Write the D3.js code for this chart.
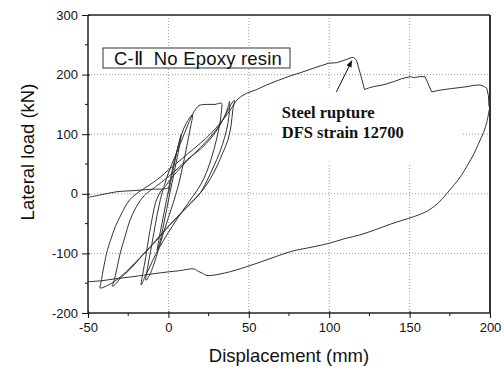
<!DOCTYPE html>
<html>
<head>
<meta charset="utf-8">
<title>C-II hysteresis</title>
<script src="https://d3js.org/d3.v7.min.js"></script>
<style>
  body { margin: 0; background: #fff; }
  text { font-family: "Liberation Sans", Arial, sans-serif; fill: #111; }
</style>
</head>
<body>
<div id="chart"></div>
<script>
// data: [displacement (mm), lateral load (kN)]
let cycle1 = [[0,0],[2,28],[4,55],[6,80],[8,100],[7,82],[5,55],[3,28],[1,2],[-1,-25],[-3,-52],[-5,-78],[-7,-95],[-6,-78],[-4,-50],[-2,-22],[0,5]];
let cycle2 = [[0,5],[2,35],[5,68],[8,98],[11,118],[15,133],[14,115],[12,88],[10,60],[8,35],[6,12],[3,-15],[0,-40],[-3,-65],[-6,-92],[-9,-118],[-12,-138],[-14,-145],[-13,-125],[-11,-95],[-9,-65],[-7,-35],[-5,-10],[-3,10]];
let cycle3 = [[-3,10],[0,35],[4,62],[8,88],[12,115],[16,138],[19,148],[24,150],[29,150],[33,152],[33,140],[32,118],[30,92],[27,62],[24,38],[20,15],[15,-5],[9,-28],[3,-52],[-3,-78],[-8,-102],[-12,-125],[-15,-142],[-17,-153],[-16,-135],[-14,-105],[-12,-70],[-10,-40],[-8,-15],[-5,3],[-2,12]];
let cycle4 = [[-2,12],[3,30],[8,45],[14,62],[20,78],[26,95],[31,112],[35,130],[37,145],[38,155],[38,140],[37,118],[35,95],[32,70],[28,45],[24,22],[20,2],[14,-16],[8,-32],[0,-55],[-8,-80],[-16,-103],[-24,-127],[-30,-142],[-33,-152],[-35,-155],[-34,-148],[-32,-125],[-30,-100],[-27,-72],[-24,-45],[-20,-22],[-15,-3],[-10,8]];
let cycle5 = [[-10,8],[-4,20],[4,38],[12,58],[20,75],[27,95],[32,115],[36,135],[39,150],[41,157],[40,140],[39,115],[37,90],[34,70],[30,45],[26,25],[21,5],[14,-15],[6,-38],[-2,-60],[-10,-85],[-18,-108],[-26,-130],[-33,-146],[-38,-154],[-42.5,-158],[-42,-150],[-40,-120],[-38,-95],[-36,-78],[-33,-55],[-30,-38],[-27,-22],[-24,-10],[-20,0],[-15,9],[-10,18],[-5,28],[0,40],[5,51],[12,67],[20,85],[26,100],[32,118],[37,135],[40,147],[42.5,157]];
let envelope = [[42.5,157],[45,163],[48.7,168.7],[55,175],[61,182.6],[68,190],[75.6,197.6],[83,204],[90,210.5],[95,215],[99.5,219],[104.7,220],[108,223],[111,225.6],[113,228],[115,229],[117,224],[119.5,200],[122,175],[125,178],[127.4,179.7],[134,183],[139.9,188],[145,193],[150.2,196.5],[153,195],[156,196.5],[159.6,196.5],[161,188],[163.7,171],[169,174],[176,176.5],[185.5,179.7],[190,182],[193.8,182.6],[196.5,180],[198,177],[199,165],[199.4,146]];
let unloading = [[199.6,142],[198,120],[196,103],[193,85],[190,67],[186,48],[182,30],[178,16],[173,0],[168,-15],[161,-29],[153,-38],[146,-44],[138,-51],[128,-61],[119,-69],[110,-75],[100,-83],[90,-89],[76,-97],[62,-110],[49,-122],[35,-133],[24,-137],[21,-133],[18.5,-130],[16,-126],[7,-129],[0,-131],[-9,-134],[-22,-139],[-34,-143],[-42,-146],[-50,-147.5]];
let leftLine = [[-50,-6],[-42.5,-2],[-32,3.5],[-22,5.3],[-11.5,7.5],[-1,9],[1,12]];

let xTicks = [-50, 0, 50, 100, 150, 200];
let yTicks = [-200, -100, 0, 100, 200, 300];
let xGrid = [0, 50, 100, 150];
let yGrid = [-100, 0, 100, 200];

let margin = {top: 15, right: 14, bottom: 59, left: 88};
let w = 504 - margin.left - margin.right;
let h = 372 - margin.top - margin.bottom;

let svg = d3.select("#chart").append("svg")
    .attr("width", 504).attr("height", 372)
  .append("g")
    .attr("transform", "translate(" + margin.left + "," + margin.top + ")");

let x = d3.scaleLinear().domain([-50, 200]).range([0, w]);
let y = d3.scaleLinear().domain([-200, 300]).range([h, 0]);

// grid
svg.selectAll(".gx").data(xGrid).enter().append("line")
    .attr("x1", d => x(d)).attr("x2", d => x(d))
    .attr("y1", 0).attr("y2", h)
    .attr("stroke", "#999").attr("stroke-dasharray", "1,2");
svg.selectAll(".gy").data(yGrid).enter().append("line")
    .attr("x1", 0).attr("x2", w)
    .attr("y1", d => y(d)).attr("y2", d => y(d))
    .attr("stroke", "#999").attr("stroke-dasharray", "1,2");

// white area behind the annotation
svg.append("rect")
    .attr("x", x(66)).attr("y", y(177))
    .attr("width", x(182) - x(66)).attr("height", y(52) - y(177))
    .attr("fill", "#fff");

// curves
svg.append("clipPath").attr("id", "clip")
  .append("rect").attr("width", w).attr("height", h);

let loopLine = d3.line().x(d => x(d[0])).y(d => y(d[1])).curve(d3.curveCatmullRom.alpha(0.5));
let straight = d3.line().x(d => x(d[0])).y(d => y(d[1]));

let g = svg.append("g").attr("clip-path", "url(#clip)")
    .attr("fill", "none").attr("stroke", "#333").attr("stroke-width", 1);
[cycle1, cycle2, cycle3, cycle4, cycle5].forEach(function(c) {
    g.append("path").attr("d", loopLine(c));
});
g.append("path").attr("d", straight(envelope));
g.append("path").attr("d", loopLine(unloading));
g.append("path").attr("d", loopLine(leftLine));

// axes
let xAxis = d3.axisBottom(x).tickValues(xTicks).tickFormat(d => String(d)).tickSize(5).tickPadding(5);
let yAxis = d3.axisLeft(y).tickValues(yTicks).tickFormat(d => String(d)).tickSize(6).tickPadding(4);

let gx = svg.append("g").attr("transform", "translate(0," + h + ")").call(xAxis);
let gy = svg.append("g").call(yAxis);
[gx, gy].forEach(function(a) {
    a.select(".domain").remove();
    a.selectAll("text").attr("font-size", "13px").attr("font-family", "Liberation Sans, Arial, sans-serif").attr("fill", "#111");
    a.selectAll("line").attr("stroke", "#111");
});
gx.selectAll(".tick line").attr("y1", -2);
gy.selectAll(".tick line").attr("x1", 2);

// minor ticks
svg.selectAll(".mx").data(d3.range(-25, 200, 50)).enter().append("line")
    .attr("x1", d => x(d)).attr("x2", d => x(d))
    .attr("y1", h).attr("y2", h + 3).attr("stroke", "#111");
svg.selectAll(".my").data(d3.range(-150, 300, 100)).enter().append("line")
    .attr("x1", 0).attr("x2", -3)
    .attr("y1", d => y(d)).attr("y2", d => y(d)).attr("stroke", "#111");

// frame
svg.append("line").attr("x1", 0).attr("x2", w).attr("y1", 0).attr("y2", 0).attr("stroke", "#222").attr("stroke-width", 1.5);
svg.append("line").attr("x1", 0).attr("x2", w).attr("y1", h).attr("y2", h).attr("stroke", "#222").attr("stroke-width", 1.5);
svg.append("line").attr("x1", 0).attr("x2", 0).attr("y1", 0).attr("y2", h).attr("stroke", "#222").attr("stroke-width", 1.5);
svg.append("line").attr("x1", w).attr("x2", w).attr("y1", 0).attr("y2", h).attr("stroke", "#333").attr("stroke-width", 2);

// legend box
svg.append("rect")
    .attr("x", 15).attr("y", 33).attr("width", 187).attr("height", 20)
    .attr("fill", "#fff").attr("stroke", "#333").attr("stroke-width", 1);
svg.append("text")
    .attr("x", 26).attr("y", 50)
    .attr("font-size", "18.5px").attr("letter-spacing", "0.2px")
    .text("C-\u2161\u00a0\u00a0No Epoxy resin");

// annotation
svg.append("defs").append("marker")
    .attr("id", "arrow").attr("viewBox", "0 0 10 10")
    .attr("refX", 9).attr("refY", 5)
    .attr("markerWidth", 7).attr("markerHeight", 7)
    .attr("orient", "auto")
  .append("path").attr("d", "M0,1L10,5L0,9Z").attr("fill", "#111");
svg.append("line")
    .attr("x1", x(104.5)).attr("y1", y(171))
    .attr("x2", x(114)).attr("y2", y(223))
    .attr("stroke", "#111").attr("stroke-width", 1)
    .attr("marker-end", "url(#arrow)");
let ann = svg.append("text")
    .attr("font-weight", "bold").attr("font-size", "16.5px")
    .style("font-family", "'Liberation Serif', 'Times New Roman', serif");
ann.append("tspan").attr("x", x(70.5)).attr("y", y(128)).text("Steel rupture");
ann.append("tspan").attr("x", x(70.5)).attr("y", y(94)).text("DFS strain 12700");

// axis titles
svg.append("text")
    .attr("x", w / 2).attr("y", h + 49)
    .attr("text-anchor", "middle").attr("font-size", "18.5px")
    .text("Displacement (mm)");
svg.append("text")
    .attr("transform", "rotate(-90)")
    .attr("x", -(h / 2) + 12).attr("y", -54)
    .attr("text-anchor", "middle").attr("font-size", "18.5px")
    .text("Lateral load (kN)");
</script>
</body>
</html>
